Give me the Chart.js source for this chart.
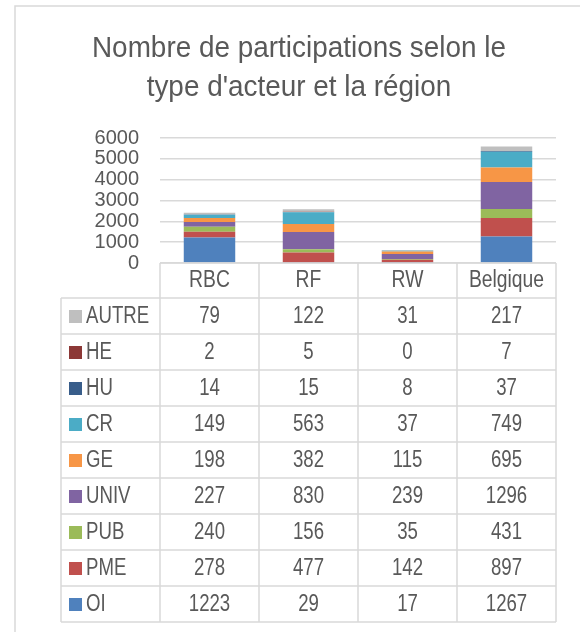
<!DOCTYPE html>
<html lang="fr">
<head>
  <meta charset="UTF-8" />
  <title>Participations par type d'acteur</title>
  <script src="https://cdn.jsdelivr.net/npm/chart.js"></script>
  <style>
    body { margin: 0; background: #fff; }
    canvas { display: block; }
  </style>
</head>
<body>
<canvas id="chart" width="580" height="632"></canvas>
<script>
const categories = ['RBC', 'RF', 'RW', 'Belgique'];

// series, bottom of the stack first
const oi    = [1223, 29, 17, 1267];
const pme   = [278, 477, 142, 897];
const pub   = [240, 156, 35, 431];
const univ  = [227, 830, 239, 1296];
const ge    = [198, 382, 115, 695];
const cr    = [149, 563, 37, 749];
const hu    = [14, 15, 8, 37];
const he    = [2, 5, 0, 7];
const autre = [79, 122, 31, 217];

const seriesNames = ['OI', 'PME', 'PUB', 'UNIV', 'GE', 'CR', 'HU', 'HE', 'AUTRE'];
const seriesData = [oi, pme, pub, univ, ge, cr, hu, he, autre];
const seriesColors = ['#4F81BD', '#C0504D', '#9BBB59', '#8064A2', '#F79646', '#4BACC6', '#385D8A', '#8C3836', '#BFBFBF'];

const yTicks = [0, 1000, 2000, 3000, 4000, 5000, 6000];
const titleLines = ['Nombre de participations selon le', "type d'acteur et la région"];

const FONT = '"Liberation Sans", Arial, sans-serif';
const TEXT = '#595959';
const LINE = '#d9d9d9';

// text squeezed sideways like the Excel export
function squeezed(ctx, str, x, y, align, sx) {
  ctx.save();
  ctx.translate(x, y);
  ctx.scale(sx, 1);
  ctx.textAlign = align;
  ctx.textBaseline = 'alphabetic';
  ctx.fillText(str, 0, 0);
  ctx.restore();
}

// frame, title and the data table under the plot
const dataTable = {
  id: 'dataTable',
  beforeDraw(chart) {
    const ctx = chart.ctx;
    ctx.save();
    ctx.strokeStyle = LINE;
    ctx.lineWidth = 1.5;
    ctx.beginPath();
    ctx.moveTo(15, 632);
    ctx.lineTo(15, 6);
    ctx.lineTo(580, 6);
    ctx.stroke();

    ctx.fillStyle = TEXT;
    ctx.font = '30px ' + FONT;
    squeezed(ctx, titleLines[0], 299, 57, 'center', 0.93);
    squeezed(ctx, titleLines[1], 299, 96, 'center', 0.93);
    ctx.restore();
  },
  afterDraw(chart) {
    const ctx = chart.ctx;
    const x = chart.scales.x;
    const top = chart.chartArea.bottom;
    const headH = 35, rowH = 36, leftX = 61;
    const step = x.getPixelForValue(1) - x.getPixelForValue(0);
    const colEdge = i => x.getPixelForValue(0) - step / 2 + i * step;
    const rowsTop = top + headH;
    const n = seriesNames.length;
    const bottom = rowsTop + n * rowH;

    ctx.save();
    ctx.strokeStyle = LINE;
    ctx.lineWidth = 1.5;
    ctx.beginPath();
    ctx.moveTo(colEdge(0), top);
    ctx.lineTo(colEdge(categories.length), top);
    for (let i = 0; i <= categories.length; i++) {
      ctx.moveTo(colEdge(i), top);
      ctx.lineTo(colEdge(i), bottom);
    }
    ctx.moveTo(leftX, rowsTop);
    ctx.lineTo(leftX, bottom);
    for (let r = 0; r <= n; r++) {
      const y = rowsTop + r * rowH;
      ctx.moveTo(leftX, y);
      ctx.lineTo(colEdge(categories.length), y);
    }
    ctx.stroke();

    ctx.fillStyle = TEXT;
    ctx.font = '23px ' + FONT;
    categories.forEach((c, i) => {
      squeezed(ctx, c, x.getPixelForValue(i), top + 24, 'center', 0.84);
    });

    // rows listed top to bottom = reverse of the stack order
    for (let r = 0; r < n; r++) {
      const s = n - 1 - r;
      const rt = rowsTop + r * rowH;
      ctx.fillStyle = seriesColors[s];
      ctx.fillRect(69, rt + 12, 13, 13);
      ctx.fillStyle = TEXT;
      squeezed(ctx, seriesNames[s], 86, rt + 25, 'left', 0.81);
      seriesData[s].forEach((v, i) => {
        squeezed(ctx, String(v), x.getPixelForValue(i), rt + 25, 'center', 0.81);
      });
    }
    ctx.restore();
  }
};

new Chart(document.getElementById('chart').getContext('2d'), {
  type: 'bar',
  data: {
    labels: categories,
    datasets: seriesNames.map((name, i) => ({
      label: name,
      data: seriesData[i],
      backgroundColor: seriesColors[i],
      borderWidth: 0,
      barPercentage: 0.52,
      categoryPercentage: 1
    }))
  },
  options: {
    responsive: false,
    animation: false,
    layout: { padding: { left: 15, right: 24, top: 138, bottom: 369 } },
    plugins: {
      legend: { display: false },
      tooltip: { enabled: false },
      title: { display: false }
    },
    scales: {
      x: { stacked: true, display: false },
      y: {
        stacked: true,
        min: 0,
        max: 6000,
        afterBuildTicks: s => { s.ticks = yTicks.map(v => ({ value: v })); },
        afterFit: s => { s.width = 145; },
        border: { display: false },
        grid: { color: LINE, lineWidth: 1.5, drawTicks: false },
        ticks: {
          color: TEXT,
          padding: 21,
          autoSkip: false,
          font: { family: FONT, size: 20 },
          callback: v => String(v)
        }
      }
    }
  },
  plugins: [dataTable]
});
</script>
</body>
</html>
